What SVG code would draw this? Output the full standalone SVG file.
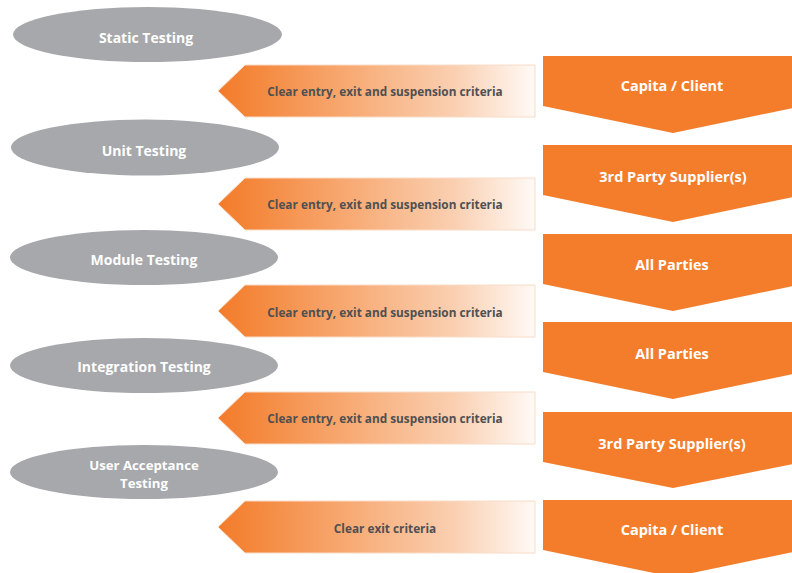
<svg xmlns="http://www.w3.org/2000/svg" width="792" height="573" viewBox="0 0 792 573">
<defs>
<linearGradient id="fade" x1="218" y1="0" x2="535" y2="0" gradientUnits="userSpaceOnUse">
<stop offset="0" stop-color="#F47B2A"/>
<stop offset="0.1" stop-color="#F4863A"/>
<stop offset="0.45" stop-color="#F8AE7A"/>
<stop offset="0.75" stop-color="#FAD0B2"/>
<stop offset="1" stop-color="#FFFAF6"/>
</linearGradient>
<style>
.stage{fill:#A7A8AB}
.stxt{font-family:"Open Sans","Noto Sans",sans-serif;font-weight:700;font-size:14px;fill:#FFFFFF;text-anchor:middle;dominant-baseline:central}
.uat{font-size:13.2px}
.crit{fill:url(#fade);stroke:#F9DCC8;stroke-width:1}
.ctxt{font-family:"Open Sans","Noto Sans",sans-serif;font-weight:700;font-size:11.8px;fill:#4F5052;text-anchor:middle;dominant-baseline:central}
.owner{fill:#F47D2C}
.otxt{font-family:"Open Sans","Noto Sans",sans-serif;font-weight:700;font-size:14.5px;fill:#FFFFFF;text-anchor:middle;dominant-baseline:central}
</style>
</defs>
<g id="connectors"></g>
<g id="stage-static"><ellipse class="stage" cx="147.5" cy="34.5" rx="134.5" ry="27.5"/><text class="stxt" x="146" y="37">Static Testing</text></g>
<g id="stage-unit"><ellipse class="stage" cx="145" cy="147.5" rx="134" ry="28"/><text class="stxt" x="144" y="150">Unit Testing</text></g>
<g id="stage-module"><ellipse class="stage" cx="144" cy="257.5" rx="134" ry="27.5"/><text class="stxt" x="144" y="259">Module Testing</text></g>
<g id="stage-integration"><ellipse class="stage" cx="144" cy="365.5" rx="134" ry="27.5"/><text class="stxt" x="144" y="366">Integration Testing</text></g>
<g id="stage-uat"><ellipse class="stage" cx="144" cy="472" rx="134" ry="27"/><text class="stxt uat" x="144" y="465"><tspan x="144" y="465">User Acceptance</tspan><tspan x="144" y="483">Testing</tspan></text></g>
<g id="crit-1"><polygon class="crit" points="245,65 535,65 535,117 245,117 218,91"/><text class="ctxt" x="385" y="91">Clear entry, exit and suspension criteria</text></g>
<g id="crit-2"><polygon class="crit" points="245,178 535,178 535,230 245,230 218,204"/><text class="ctxt" x="385" y="204">Clear entry, exit and suspension criteria</text></g>
<g id="crit-3"><polygon class="crit" points="245,285 535,285 535,337 245,337 218,311"/><text class="ctxt" x="385" y="312">Clear entry, exit and suspension criteria</text></g>
<g id="crit-4"><polygon class="crit" points="245,392 535,392 535,444 245,444 218,418"/><text class="ctxt" x="385" y="418">Clear entry, exit and suspension criteria</text></g>
<g id="crit-5"><polygon class="crit" points="245,501 535,501 535,553 245,553 218,527"/><text class="ctxt" x="385" y="528">Clear exit criteria</text></g>
<g id="owner-1"><polygon class="owner" points="543,56 803,56 803,106 673,133 543,106"/><text class="otxt" x="672" y="85">Capita / Client</text></g>
<g id="owner-2"><polygon class="owner" points="543,145 803,145 803,195 673,222 543,195"/><text class="otxt" x="673" y="176">3rd Party Supplier(s)</text></g>
<g id="owner-3"><polygon class="owner" points="543,234 803,234 803,284 673,311 543,284"/><text class="otxt" x="672" y="264">All Parties</text></g>
<g id="owner-4"><polygon class="owner" points="543,322 803,322 803,372 673,399 543,372"/><text class="otxt" x="672" y="353">All Parties</text></g>
<g id="owner-5"><polygon class="owner" points="543,412 803,412 803,462 673,488 543,462"/><text class="otxt" x="672" y="443">3rd Party Supplier(s)</text></g>
<g id="owner-6"><polygon class="owner" points="543,500 803,500 803,550 673,577 543,550"/><text class="otxt" x="672" y="529">Capita / Client</text></g>
</svg>
